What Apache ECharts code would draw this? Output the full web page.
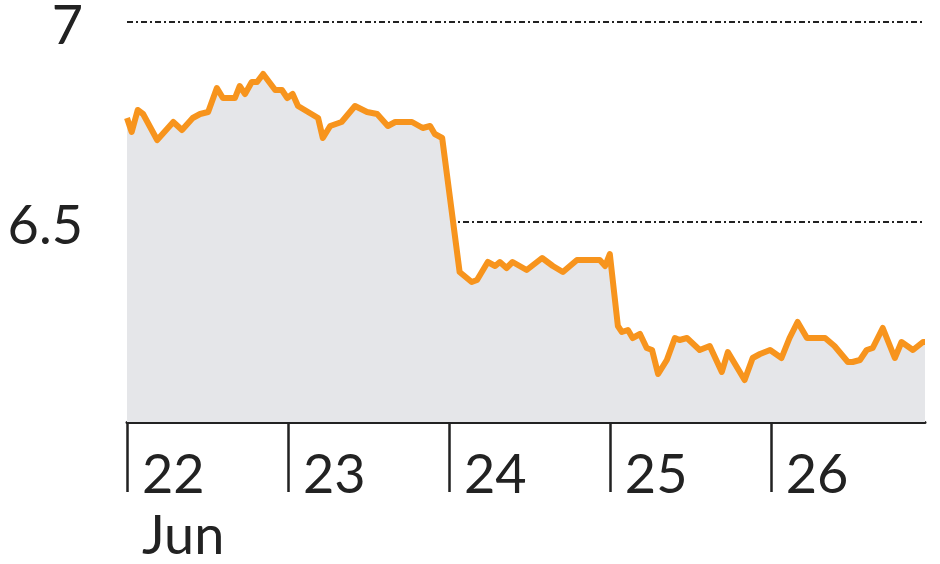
<!DOCTYPE html>
<html>
<head>
<meta charset="utf-8">
<script src="https://cdn.jsdelivr.net/npm/echarts@6/dist/echarts.min.js"></script>
<style>
  html, body { margin: 0; padding: 0; background: #fff; }
  #chart { width: 940px; height: 564px; }
</style>
</head>
<body>
<div id="chart"></div>
<script>
// hours since start of 22 Jun
var hours = [0, 0.7, 1.6, 2.4, 4.5, 6.9, 8.2, 9.8, 10.9, 12.1, 13.4, 14.3, 16.1, 16.8, 17.6, 18.6, 19.4, 20.3, 22.1, 23.1,
  23.9, 24.7, 25.5, 27.0, 28.5, 29.2, 30.3, 32.0, 34.0, 35.8, 37.3, 38.9, 40.0, 42.5, 44.1, 45.2, 45.9, 47.0,
  49.6, 51.4, 52.2, 53.8, 54.9, 55.6, 56.6, 57.5, 59.6, 61.9, 63.5, 65.0, 67.1, 70.5, 71.3, 72.0,
  73.2, 73.8, 74.7, 75.4, 76.5, 77.5, 78.3, 79.2, 80.5, 81.7, 82.4, 83.5, 85.4, 86.9, 88.7, 89.6, 92.1, 93.3, 94.4, 95.9,
  97.6, 98.8, 100.0, 101.4, 104.1, 105.5, 107.5, 108.2, 109.3, 110.3, 111.2, 112.7, 114.5, 115.5, 117.2, 118.7, 119.0];
var rate = [6.76, 6.725, 6.78, 6.77, 6.705, 6.75, 6.73, 6.76, 6.77, 6.775, 6.835, 6.81, 6.81, 6.84, 6.82, 6.85, 6.85, 6.87, 6.83, 6.83,
  6.81, 6.82, 6.79, 6.775, 6.76, 6.71, 6.74, 6.75, 6.79, 6.775, 6.77, 6.74, 6.75, 6.75, 6.735, 6.74, 6.72, 6.71,
  6.375, 6.35, 6.355, 6.40, 6.39, 6.40, 6.385, 6.40, 6.38, 6.41, 6.39, 6.375, 6.405, 6.405, 6.39, 6.42,
  6.24, 6.225, 6.23, 6.21, 6.22, 6.185, 6.18, 6.12, 6.155, 6.21, 6.205, 6.21, 6.18, 6.19, 6.125, 6.175, 6.105, 6.16, 6.17, 6.18,
  6.16, 6.21, 6.25, 6.21, 6.21, 6.19, 6.15, 6.15, 6.155, 6.18, 6.185, 6.235, 6.16, 6.20, 6.18, 6.20, 6.20];
var dayTicks = [0, 24, 48, 72, 96];
var dayLabels = ["22", "23", "24", "25", "26"];
var yTicks = [6, 6.5, 7];

var chart = echarts.init(document.getElementById("chart"));
var fontFamily = "Lato";

var pts = [];
for (var i = 0; i < hours.length; i++) {
  pts.push([hours[i], rate[i]]);
}

var option = {
  backgroundColor: "#fff",
  animation: false,
  grid: { left: 127, right: 15, top: 22, bottom: 142 },
  xAxis: {
    type: "value",
    min: 0,
    max: 119,
    axisLine: { show: true, lineStyle: { color: "#222", width: 3 } },
    axisTick: {
      show: true,
      length: 70,
      customValues: dayTicks,
      lineStyle: { color: "#222", width: 2.5 }
    },
    axisLabel: {
      customValues: dayTicks,
      formatter: function (v) {
        return dayLabels[dayTicks.indexOf(v)];
      },
      align: "left",
      verticalAlign: "top",
      padding: [0, 0, 0, 15],
      margin: 27,
      fontSize: 54,
      fontFamily: fontFamily,
      color: "#222"
    },
    splitLine: { show: false }
  },
  yAxis: {
    type: "value",
    min: yTicks[0],
    max: yTicks[2],
    interval: 0.5,
    axisLine: { show: false },
    axisTick: { show: false },
    axisLabel: {
      customValues: [6.5, 7],
      formatter: function (v) { return v === 7 ? "7" : "6.5"; },
      margin: 44,
      fontSize: 54,
      lineHeight: 10,
      fontFamily: fontFamily,
      color: "#222",
      verticalAlign: "top"
    },
    splitLine: {
      show: true,
      lineStyle: { color: "#222", width: 2, type: [6, 3, 2, 3] }
    }
  },
  graphic: [{
    type: "text",
    left: 142,
    top: 510,
    style: { text: "Jun", fontSize: 54, fontFamily: fontFamily, fill: "#222" }
  }],
  series: [{
    type: "line",
    data: pts,
    symbol: "none",
    lineStyle: { color: "#f7941d", width: 6, join: "round" },
    areaStyle: { color: "#e5e6e9", opacity: 1, origin: "start" }
  }]
};

chart.setOption(option);
</script>
</body>
</html>
